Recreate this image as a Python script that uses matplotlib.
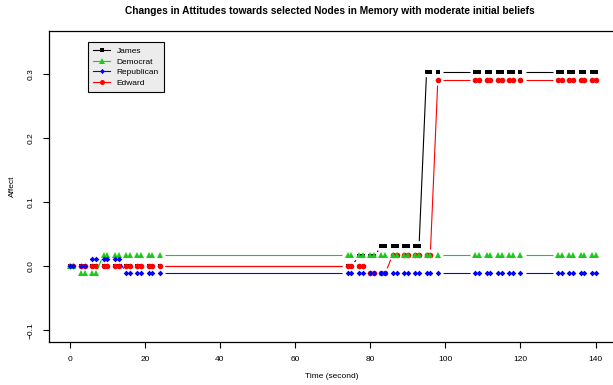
import matplotlib
matplotlib.use('Agg')
import matplotlib.pyplot as plt
from matplotlib.lines import Line2D
import numpy as np

plt.rcParams['font.family'] = ['Liberation Sans', 'DejaVu Sans']

# sample times (seconds)
time = [0, 1, 3, 4, 6, 7, 9, 10, 12, 13, 15, 16, 18, 19, 21, 22, 24,
        74, 75, 77, 78, 80, 81, 83, 84, 86, 87, 89, 90, 92, 93, 95, 96, 98,
        108, 109, 111, 112, 114, 115, 117, 118, 120,
        130, 131, 133, 134, 136, 137, 139, 140]

james = [0] * 17 + \
        [0, 0, 0.016, 0.016, 0.016, 0.016,
         0.031, 0.031, 0.031, 0.031, 0.031, 0.031, 0.031, 0.031,
         0.304, 0.304, 0.304] + \
        [0.304] * 9 + [0.304] * 8

edward = [0] * 17 + \
         [0, 0, 0, 0, -0.011, -0.011, -0.011, -0.011,
          0.018, 0.018, 0.018, 0.018, 0.018, 0.018, 0.018, 0.018,
          0.291] + \
         [0.291] * 9 + [0.291] * 8

democrat = [0, 0, -0.01, -0.01, -0.01, -0.01] + [0.018] * 11 + \
           [0.018] * 17 + [0.018] * 9 + [0.018] * 8

republican = [0, 0, 0, 0, 0.011, 0.011, 0.011, 0.011, 0.011, 0.011] + \
             [-0.011] * 7 + [-0.011] * 17 + [-0.011] * 9 + [-0.011] * 8

series_names = ['James', 'Democrat', 'Republican', 'Edward']
GREEN = '#19cc19'

fig = plt.figure(figsize=(6.13, 3.85), dpi=100)
ax = fig.add_axes([48.7 / 613, 1 - 341.7 / 385, 567.9 / 613, 310.7 / 385])
ax.set_xlim(-5.6, 145.6)
ax.set_ylim(-0.118, 0.368)

lw = 0.8
GAP = 5.3  # pixels, like R's type="b"


def plot_b(x, y, color, marker, ms, z):
    # lines that stop short of each point, then the points
    pts = ax.transData.transform(np.column_stack([x, y]))
    inv = ax.transData.inverted()
    for p0, p1 in zip(pts[:-1], pts[1:]):
        d = np.hypot(*(p1 - p0))
        if d <= 2 * GAP:
            continue
        u = (p1 - p0) / d
        a = inv.transform(p0 + u * GAP)
        b = inv.transform(p1 - u * GAP)
        ax.plot([a[0], b[0]], [a[1], b[1]], color=color, lw=lw, zorder=z,
                solid_capstyle='butt')
    ax.plot(x, y, ls='none', color=color, marker=marker, ms=ms, mew=0, zorder=z)
    return Line2D([], [], color=color, marker=marker, ms=ms * 0.9, mew=0, lw=lw)


h_james = plot_b(time, james, 'black', 's', 3.3, 2)
h_edward = plot_b(time, edward, '#ff0000', 'o', 4.0, 3)
h_dem = plot_b(time, democrat, GREEN, '^', 4.3, 4)
h_rep = plot_b(time, republican, '#0000ff', 'D', 2.9, 5)

ax.set_xticks([0, 20, 40, 60, 80, 100, 120, 140])
ax.set_yticks([-0.1, 0.0, 0.1, 0.2, 0.3])
ax.set_yticklabels(['\u22120.1', '0.0', '0.1', '0.2', '0.3'], rotation=90, va='center')
ax.tick_params(labelsize=6, length=4.5, width=0.8, pad=5.5, colors='black')
for s in ax.spines.values():
    s.set_linewidth(0.9)

fig.text(12 / 613, 1 - 186 / 385, 'Affect', rotation=90, ha='center', va='center', fontsize=6)
fig.text(332 / 613, 1 - 377 / 385, 'Time (second)', ha='center', va='center', fontsize=6)
fig.text(330 / 613, 1 - 11 / 385,
         'Changes in Attitudes towards selected Nodes in Memory with moderate initial beliefs',
         ha='center', va='center', fontsize=7.3, fontweight='bold')

leg = ax.legend([h_james, h_dem, h_rep, h_edward], series_names,
                loc='upper left', bbox_to_anchor=(88.3 / 613, 1 - 42.3 / 385),
                bbox_transform=fig.transFigure, borderaxespad=0, fontsize=6,
                fancybox=False, framealpha=1, facecolor='#ececec', edgecolor='black',
                handlelength=2.0, labelspacing=0.32, borderpad=0.6, handletextpad=0.8)
leg.get_frame().set_linewidth(0.8)

fig.savefig('out.png', dpi=100)
